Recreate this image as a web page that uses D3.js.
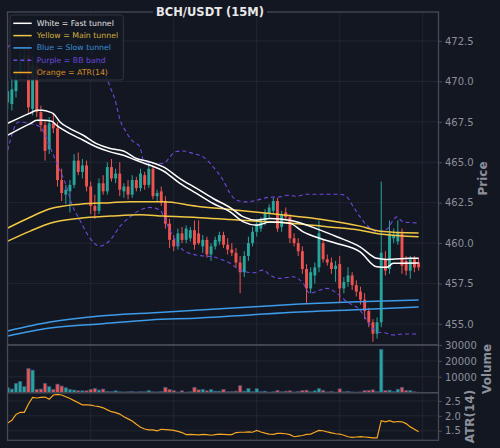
<!DOCTYPE html>
<html>
<head>
<meta charset="utf-8">
<script src="https://cdn.jsdelivr.net/npm/d3@7"></script>
<style>
  body { margin: 0; background: #131722; }
  text { font-family: "DejaVu Sans", sans-serif; }
</style>
</head>
<body>
<svg id="chart" width="500" height="448"></svg>
<script>
// candles, index 0..99 (15 minute bars)
const opens = [468.7,468.6,469.4,470.5,471.2,471.6,468.3,470.9,468.1,467.3,465.8,467.4,467.1,463.9,463.0,463.2,463.6,465.1,464.4,464.8,
  463.5,462.3,462.0,463.7,463.2,464.7,464.0,464.3,463.2,463.5,463.0,463.9,463.4,464.2,463.6,464.6,462.9,463.2,462.6,461.2,
  460.2,459.8,460.6,460.2,460.3,460.8,460.6,459.8,460.2,459.3,459.8,460.1,460.5,459.9,459.6,459.4,458.8,458.2,459.2,460.0,
  460.7,460.9,461.3,461.8,462.0,462.6,461.0,461.9,461.6,460.3,460.0,459.5,458.4,457.2,458.0,458.5,460.0,459.0,458.8,458.4,
  458.7,457.2,457.6,458.0,457.4,457.0,456.5,455.8,455.1,454.4,455.1,459.0,458.4,460.3,460.1,460.6,458.9,458.3,459.0,458.8];
const highs = [470.0,470.3,471.0,471.8,472.0,472.4,471.6,471.3,468.5,467.6,467.8,468.0,467.5,464.6,463.6,463.9,465.5,465.6,465.2,465.1,
  463.8,463.0,464.0,464.2,465.0,465.2,464.6,465.0,463.7,463.9,464.2,464.1,464.6,464.4,465.0,464.8,463.3,463.5,462.9,461.5,
  460.5,460.9,461.0,461.1,461.0,461.4,461.4,460.5,460.4,460.0,460.4,460.7,460.7,460.3,460.0,459.7,459.2,459.5,460.4,461.0,
  461.5,461.6,462.1,462.4,462.8,462.8,462.0,462.2,461.8,460.6,460.3,459.8,458.7,458.5,458.8,461.4,460.2,459.3,459.1,458.9,
  459.2,457.9,458.5,458.2,457.7,457.3,456.9,456.0,455.3,455.4,463.8,459.5,461.4,460.9,461.4,460.9,459.2,459.2,459.2,459.1];
const lows = [468.3,468.2,469.0,470.1,470.6,468.0,467.9,467.8,466.9,465.1,465.5,466.8,463.5,462.6,462.4,461.9,463.4,464.2,464.0,463.2,
  461.8,461.5,461.8,463.0,463.0,463.8,463.7,462.9,462.8,462.7,462.8,463.2,463.2,463.3,463.4,462.7,462.6,462.3,460.9,459.7,
  459.5,459.6,460.0,460.0,460.1,459.6,459.9,459.4,459.1,458.9,459.6,459.9,459.7,459.3,459.2,458.5,456.9,457.9,458.9,459.8,
  460.4,460.7,461.1,461.5,461.8,460.7,460.7,461.4,460.0,459.8,459.2,458.1,456.3,456.9,457.5,458.2,458.8,458.6,458.1,457.6,
  456.3,456.9,457.3,457.1,456.7,456.2,455.3,454.8,453.9,454.1,454.8,458.0,458.1,460.0,459.9,458.1,458.0,457.8,458.2,458.3];
const closes = [469.4,469.5,470.6,471.3,471.6,468.4,471.0,468.1,467.3,465.7,467.4,467.1,463.9,463.1,463.3,463.6,465.1,464.4,464.8,463.5,
  462.3,462.0,463.7,463.2,464.7,464.0,464.3,463.3,463.5,463.0,463.9,463.4,464.3,463.6,464.6,462.9,463.1,462.5,461.2,460.2,
  459.8,460.6,460.2,460.9,460.8,459.9,460.0,460.2,459.3,459.8,460.2,460.5,459.9,459.6,459.4,458.8,458.2,459.2,460.0,460.7,
  461.2,461.4,461.9,462.2,462.6,460.9,461.8,461.6,460.3,460.0,459.5,458.4,457.2,458.2,458.5,460.6,459.0,458.8,458.4,458.6,
  457.2,457.6,458.0,457.4,457.0,456.5,455.8,455.1,454.4,455.1,459.4,458.3,460.6,460.5,460.7,458.6,458.3,459.0,458.5,458.5];
const volumes = [3100,2300,5900,7100,3800,15200,14200,2100,2300,5900,3800,2100,5400,4200,3100,2100,1700,1200,1200,1200,
  2100,2700,1700,2300,900,700,1200,600,500,600,800,500,700,600,1400,600,500,700,3400,2100,
  1300,500,1200,400,600,3400,1800,2100,1200,2100,1000,1000,2100,700,700,1000,4400,1000,2700,700,
  2500,700,1000,400,600,1500,600,1000,1200,500,800,1300,1600,600,1200,2700,1500,500,800,400,
  2400,600,900,500,400,500,1300,1500,1800,700,27300,1300,1600,700,2200,3400,1300,1300,600,300];
const atrValues = [1.76,1.85,2.05,2.12,2.12,2.40,2.62,2.60,2.62,2.63,2.56,2.70,2.72,2.70,2.64,2.58,2.51,2.44,2.37,2.37,
  2.36,2.33,2.31,2.27,2.20,2.14,2.11,2.06,1.97,1.90,1.83,1.72,1.62,1.56,1.53,1.53,1.50,1.55,1.54,1.53,
  1.51,1.48,1.44,1.37,1.38,1.37,1.36,1.38,1.37,1.35,1.37,1.39,1.38,1.37,1.37,1.44,1.45,1.45,1.46,1.45,
  1.51,1.46,1.42,1.39,1.38,1.41,1.41,1.40,1.37,1.30,1.32,1.34,1.38,1.39,1.45,1.51,1.50,1.46,1.43,1.40,
  1.39,1.35,1.30,1.28,1.29,1.30,1.29,1.28,1.26,1.26,1.84,1.80,1.84,1.79,1.81,1.80,1.74,1.63,1.55,1.47];

// overlay lines as [bar index, price]
const fastUpper = [[0,467.41],[5.4,468.04],[7,468.21],[8.3,468.21],[10.2,468.10],[11,468.01],[12.6,467.49],[15,467.08],
  [18.2,466.67],[21.4,466.15],[24.7,465.85],[27.9,465.70],[31,465.23],[34.3,465.02],[37.5,464.71],[41.5,463.99],
  [45.5,463.38],[49.5,462.76],[53.6,462.20],[56.8,461.62],[60,461.42],[63.2,461.52],[68,461.42],[75.3,460.80],
  [79.3,460.39],[84.9,459.77],[88.9,459.06],[91.3,458.99],[96.9,459.06],[99,459.07]];
const fastLower = [[0,466.67],[3,467.08],[5.4,467.39],[7,467.59],[8.6,467.59],[10.6,467.53],[11.8,467.28],[15,466.77],
  [18.2,466.36],[21.4,465.94],[24.7,465.64],[27.9,465.43],[31,465.12],[34.3,464.81],[37.5,464.46],[41.5,463.69],
  [45.5,463.07],[49.5,462.45],[53.6,461.93],[56.8,461.31],[60,461.11],[63.2,461.30],[68,461.22],[71.2,460.70],
  [75.3,460.29],[79.3,459.98],[84.9,459.46],[88.9,458.54],[91.3,458.50],[92.9,458.75],[99,458.77]];
const mainUpper = [[0,460.93],[5.4,461.60],[10.2,462.12],[17.4,462.41],[24.7,462.50],[29.5,462.55],[37.5,462.55],
  [45.5,462.28],[53.6,462.08],[63.2,461.83],[68.8,461.67],[76.9,461.42],[84.9,461.05],[89.7,460.74],[99,460.62]];
const mainLower = [[0,460.12],[5.4,460.74],[10.2,461.23],[17.4,461.54],[24.7,461.67],[31.9,461.76],[37.5,461.67],
  [45.5,461.59],[53.6,461.46],[63.2,461.31],[68.8,461.22],[76.9,461.01],[84.9,460.80],[89.7,460.56],[99,460.39]];
const slowUpper = [[0,454.57],[10.2,455.12],[22.2,455.49],[34.3,455.68],[46.3,455.86],[58.4,456.05],[70.4,456.23],
  [82.5,456.36],[99,456.48]];
const slowLower = [[0,454.26],[10.2,454.75],[22.2,455.00],[34.3,455.25],[46.3,455.37],[58.4,455.56],[70.4,455.74],
  [82.5,455.86],[99,456.05]];
const bbUpper = [[0,472.10],[3,472.84],[7.8,473.46],[12.6,473.15],[17.4,472.22],[22.2,471.17],[24.7,469.65],[25.9,468.83],
  [27.1,467.59],[28.3,466.98],[29.9,466.36],[31.9,465.94],[32.7,465.12],[35.1,464.92],[37.5,464.92],[39.1,465.33],
  [40.3,465.64],[42.3,465.70],[44.7,465.54],[47.1,465.33],[49.5,464.71],[51.9,463.89],[53.6,463.07],[55.2,462.65],
  [57.6,462.55],[60,462.65],[63.2,462.84],[65.6,462.86],[67.2,462.96],[69.6,462.90],[72,463.02],[76.9,463.02],
  [80.1,463.02],[81.7,462.86],[83.3,462.24],[84.9,461.62],[86.5,461.11],[88.9,460.70],[91.3,460.85],[92.9,461.42],
  [93.7,461.62],[95.3,461.31],[99,461.25]];
const bbLower = [[0,465.74],[2.6,467.49],[5.4,467.39],[7.8,467.18],[10.2,465.94],[12.2,464.71],[14.2,463.48],[15.4,462.45],
  [17.4,461.42],[19.8,460.31],[22.2,459.81],[24.7,460.19],[27.1,461.05],[29.5,461.62],[31.9,462.04],[34.3,462.20],
  [36.7,462.04],[38.3,461.22],[39.9,460.39],[42.3,459.57],[45.5,459.26],[49.5,459.15],[51.9,458.95],[53.6,458.75],
  [56,458.33],[59.2,458.17],[61.6,458.33],[63.2,458.02],[65.6,457.82],[68.8,457.92],[71.2,457.51],[72.8,456.90],
  [75.3,457.10],[76.9,457.20],[79.3,456.90],[81.7,456.38],[84.9,455.86],[87.3,454.94],[88.9,454.52],[91.3,454.43],
  [92.9,454.32],[95.3,454.38],[99,454.38]];

const priceTicks = [455, 457.5, 460, 462.5, 465, 467.5, 470, 472.5];
const volumeTicks = [10000, 20000, 30000];
const atrTicks = [1.5, 2.0, 2.5];
const gridBars = [0, 20, 40, 60, 80, 100];

const legendItems = [
  { label: "White = Fast tunnel", color: "#ffffff", text: "#e4e4e4", dash: null },
  { label: "Yellow = Main tunnel", color: "#f2c744", text: "#d2b13c", dash: null },
  { label: "Blue = Slow tunnel", color: "#3d9be9", text: "#3a8ed8", dash: null },
  { label: "Purple = BB band", color: "#7048e0", text: "#6c46da", dash: "4,3" },
  { label: "Orange = ATR(14)", color: "#f5a623", text: "#d98f22", dash: null },
];

const bg = "#131722", gridColor = "#262a35", spineColor = "#474b56", tickColor = "#8d909a";
const up = "#26a69a", down = "#ef5350";
const plotLeft = 7.5, plotRight = 438.5;

const svg = d3.select("#chart");
svg.append("rect").attr("width", 500).attr("height", 448).attr("fill", bg);

const x = d3.scaleLinear().domain([0, 103.8]).range([7.7, 438.5]);
const yPrice = d3.scaleLinear().domain([453.7, 474.29]).range([345, 12]);
const yVol = d3.scaleLinear().domain([0, 30000]).range([392.7, 345]);
const yAtr = d3.scaleLinear().domain([1.18, 2.777]).range([440.3, 392.7]);
const step = x(1) - x(0);

function panel(name, y, ticks, fmt, label, labelX) {
  const [y0, y1] = [y.range()[1], y.range()[0]];
  const g = svg.append("g").attr("class", name);

  g.append("g").selectAll("line").data(ticks).enter().append("line")
    .attr("x1", plotLeft).attr("x2", plotRight)
    .attr("y1", (d) => y(d)).attr("y2", (d) => y(d))
    .attr("stroke", gridColor).attr("stroke-width", 0.8);
  g.append("g").selectAll("line").data(gridBars).enter().append("line")
    .attr("x1", (d) => x(d)).attr("x2", (d) => x(d))
    .attr("y1", y0).attr("y2", y1)
    .attr("stroke", gridColor).attr("stroke-width", 0.8);

  svg.append("clipPath").attr("id", "clip-" + name)
    .append("rect").attr("x", plotLeft).attr("y", y0)
    .attr("width", plotRight - plotLeft).attr("height", y1 - y0);
  const body = g.append("g").attr("clip-path", "url(#clip-" + name + ")");

  const axis = d3.axisRight(y).tickValues(ticks).tickFormat(fmt).tickSize(3.5).tickPadding(3);
  const ax = g.append("g").attr("transform", `translate(${plotRight},0)`).call(axis);
  ax.select(".domain").remove();
  ax.selectAll("line").attr("stroke", spineColor);
  ax.selectAll("text").attr("fill", tickColor).attr("font-size", 10)
    .attr("font-family", "DejaVu Sans, sans-serif");

  g.append("text").text(label)
    .attr("transform", `translate(${labelX},${(y0 + y1) / 2}) rotate(-90)`)
    .attr("text-anchor", "middle").attr("dominant-baseline", "central")
    .attr("font-size", 12).attr("font-weight", "bold").attr("fill", tickColor);

  return { g, body, y0, y1 };
}

const pricePanel = panel("price", yPrice, priceTicks, d3.format(".1f"), "Price", 483);
const volPanel = panel("volume", yVol, volumeTicks, d3.format("d"), "Volume", 487);
const atrPanel = panel("atr", yAtr, atrTicks, d3.format(".1f"), "ATR(14)", 470);

const bars = d3.range(opens.length);
const colorOf = (i) => (closes[i] >= opens[i] ? up : down);

// candles
const candle = pricePanel.body.append("g").selectAll("g").data(bars).enter().append("g");
candle.append("line")
  .attr("x1", (i) => x(i)).attr("x2", (i) => x(i))
  .attr("y1", (i) => yPrice(highs[i])).attr("y2", (i) => yPrice(lows[i]))
  .attr("stroke", colorOf).attr("stroke-width", 1);
candle.append("rect")
  .attr("x", (i) => x(i) - step * 0.35).attr("width", step * 0.7)
  .attr("y", (i) => yPrice(Math.max(opens[i], closes[i])))
  .attr("height", (i) => Math.max(0.8, Math.abs(yPrice(opens[i]) - yPrice(closes[i]))))
  .attr("fill", colorOf);

// overlay lines
const priceLine = d3.line().x((d) => x(d[0])).y((d) => yPrice(d[1])).curve(d3.curveMonotoneX);
const overlays = [
  { data: bbUpper, color: "#7048e0", width: 1.1, dash: "4,3" },
  { data: bbLower, color: "#7048e0", width: 1.1, dash: "4,3" },
  { data: slowUpper, color: "#3d9be9", width: 1.5 },
  { data: slowLower, color: "#3d9be9", width: 1.5 },
  { data: mainUpper, color: "#f2c744", width: 1.5 },
  { data: mainLower, color: "#f2c744", width: 1.5 },
  { data: fastUpper, color: "#ffffff", width: 1.5 },
  { data: fastLower, color: "#ffffff", width: 1.5 },
];
pricePanel.body.append("g").selectAll("path").data(overlays).enter().append("path")
  .attr("d", (d) => priceLine(d.data))
  .attr("fill", "none").attr("stroke", (d) => d.color)
  .attr("stroke-width", (d) => d.width)
  .attr("stroke-dasharray", (d) => d.dash || null);

// volume
volPanel.body.append("g").selectAll("rect").data(bars).enter().append("rect")
  .attr("x", (i) => x(i) - step * 0.4).attr("width", step * 0.8)
  .attr("y", (i) => yVol(volumes[i]))
  .attr("height", (i) => yVol(0) - yVol(volumes[i]))
  .attr("fill", colorOf).attr("stroke", "#34507a").attr("stroke-width", 0.7);

// ATR
atrPanel.body.append("path")
  .attr("d", d3.line().x((d, i) => x(i)).y((d) => yAtr(d))(atrValues))
  .attr("fill", "none").attr("stroke", "#f5a623").attr("stroke-width", 1.2);

// frames
[pricePanel, volPanel, atrPanel].forEach((p) => {
  svg.append("rect").attr("x", plotLeft).attr("y", p.y0)
    .attr("width", plotRight - plotLeft).attr("height", p.y1 - p.y0)
    .attr("fill", "none").attr("stroke", spineColor).attr("stroke-width", 1.3);
});

// legend
const legend = svg.append("g").attr("transform", "translate(10,15)");
legend.append("rect").attr("width", 113.3).attr("height", 65).attr("rx", 2.5)
  .attr("fill", bg).attr("fill-opacity", 0.9)
  .attr("stroke", "#3a3e49").attr("stroke-width", 0.8);
const row = legend.selectAll(".row").data(legendItems).enter().append("g")
  .attr("class", "row")
  .attr("transform", (d, i) => `translate(0,${8.3 + i * 12.3})`);
row.append("line").attr("x1", 3.3).attr("x2", 21.7)
  .attr("stroke", (d) => d.color).attr("stroke-width", 1.5)
  .attr("stroke-dasharray", (d) => d.dash);
row.append("text").text((d) => d.label)
  .attr("x", 26.7).attr("dominant-baseline", "central")
  .attr("font-size", 7.8).attr("fill", (d) => d.text);

// title
const title = svg.append("g").attr("transform", "translate(210,12)");
title.append("rect").attr("x", -57).attr("y", -6).attr("width", 114).attr("height", 11).attr("fill", bg);
title.append("text").text("BCH/USDT (15M)")
  .attr("text-anchor", "middle").attr("dominant-baseline", "central")
  .attr("font-size", 11.5).attr("font-weight", "bold").attr("fill", "#e8e8e8");
</script>
</body>
</html>
